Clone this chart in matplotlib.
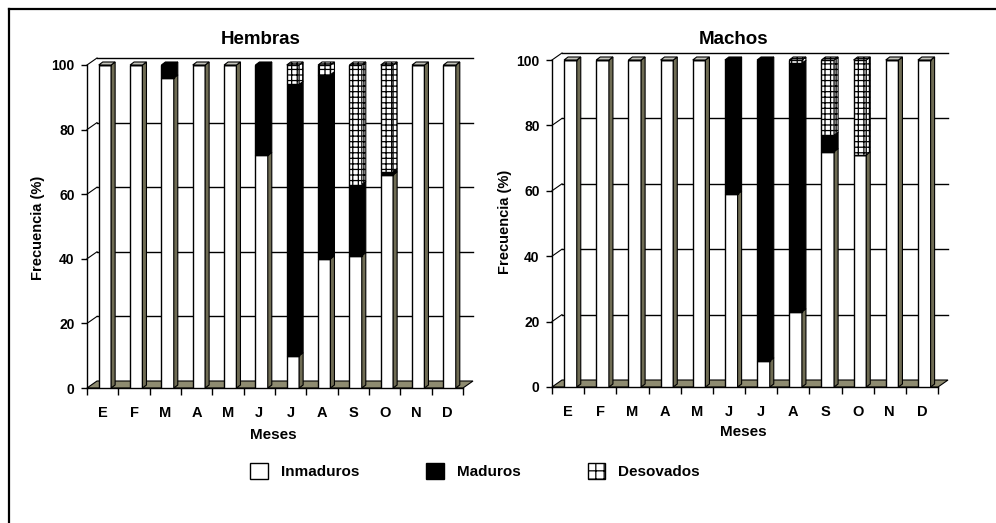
import matplotlib
matplotlib.use('Agg')
import matplotlib.pyplot as plt
from matplotlib.patches import Polygon, Patch
from matplotlib.lines import Line2D

plt.rcParams['font.family'] = ['Liberation Sans', 'DejaVu Sans']
plt.rcParams['hatch.linewidth'] = 0.9

# ---------------- data ----------------
months = ['E', 'F', 'M', 'A', 'M', 'J', 'J', 'A', 'S', 'O', 'N', 'D']
series_names = ['Inmaduros', 'Maduros', 'Desovados']

hembras_inmaduros = [100, 100, 96, 100, 100, 72, 10, 40, 41, 66, 100, 100]
hembras_maduros   = [0, 0, 4, 0, 0, 28, 84, 57, 22, 1, 0, 0]
hembras_desovados = [0, 0, 0, 0, 0, 0, 6, 3, 37, 33, 0, 0]

machos_inmaduros = [100, 100, 100, 100, 100, 59, 8, 23, 72, 71, 100, 100]
machos_maduros   = [0, 0, 0, 0, 0, 41, 92, 76, 5, 0, 0, 0]
machos_desovados = [0, 0, 0, 0, 0, 0, 0, 1, 23, 29, 0, 0]

y_ticks = [0, 20, 40, 60, 80, 100]

# ---------------- style ----------------
FW, FH, DPI = 996, 523, 100
FLOOR = '#8e8b70'
SIDE = '#6f6c54'
TOPC = '#c4c4bc'
HATCH = '+++'

fig = plt.figure(figsize=(FW / DPI, FH / DPI), dpi=DPI)


def fx(px):
    return px / FW


def fy(py):
    return 1 - py / FH


def panel(box, title, title_xy, ylab_xy, xlab_xy, inm, mad, des, wall=(10, 7)):
    left, top, right, bottom = box
    ax = fig.add_axes([fx(left), fy(bottom), (right - left) / FW, (bottom - top) / FH])
    n = len(months)
    ax.set_xlim(-0.5, n - 0.5)
    ax.set_ylim(0, 100)
    ppx = (right - left) / n          # pixels per category
    ppy = (bottom - top) / 100.0      # pixels per percent
    wdx, wdy = wall[0] / ppx, wall[1] / ppy
    bdx, bdy = 4 / ppx, 3 / ppy

    for s in ['top', 'right']:
        ax.spines[s].set_visible(False)
    ax.spines['left'].set_linewidth(1.0)
    ax.spines['bottom'].set_linewidth(1.0)
    ax.patch.set_visible(False)

    # floor
    ax.add_patch(Polygon([(-0.5, 0), (n - 0.5, 0), (n - 0.5 + wdx, wdy), (-0.5 + wdx, wdy)],
                         closed=True, facecolor=FLOOR, edgecolor='black', lw=0.8,
                         zorder=1, clip_on=False))
    # back wall grid lines and left wall diagonals
    for v in y_ticks[1:]:
        ax.plot([-0.5 + wdx, n - 0.5 + wdx], [v + wdy, v + wdy], color='black', lw=1.0,
                zorder=0.5, clip_on=False)
        ax.plot([-0.5, -0.5 + wdx], [v, v + wdy], color='black', lw=0.8, zorder=0.5,
                clip_on=False)

    # bars
    x0 = [i - 0.5 + 0.375 for i in range(n)]
    w = 0.395
    segs = [
        (inm, [0] * n, 'white', None, SIDE, TOPC),
        (mad, inm, 'black', None, 'black', 'black'),
        (des, [a + b for a, b in zip(inm, mad)], 'white', HATCH, 'white', 'white'),
    ]
    for vals, bots, fc, hatch, sc, tc in segs:
        ax.bar(x0, vals, width=w, bottom=bots, align='edge', color=fc, edgecolor='black',
               hatch=hatch, lw=1.0, zorder=3)
        for i in range(n):
            if vals[i] <= 0:
                continue
            xa, xb = x0[i], x0[i] + w
            y0, y1 = bots[i], bots[i] + vals[i]
            ax.add_patch(Polygon([(xb, y0), (xb + bdx, y0 + bdy), (xb + bdx, y1 + bdy), (xb, y1)],
                                 closed=True, facecolor=sc, edgecolor='black', lw=0.8,
                                 hatch=hatch, zorder=3, clip_on=False))
            if y1 >= 99.5:
                ax.add_patch(Polygon([(xa, y1), (xb, y1), (xb + bdx, y1 + bdy), (xa + bdx, y1 + bdy)],
                                     closed=True, facecolor=tc, edgecolor='black', lw=0.8,
                                     hatch=hatch, zorder=3, clip_on=False))

    # axes ticks
    ax.set_yticks(y_ticks)
    ax.set_yticklabels([str(t) for t in y_ticks], fontsize=10, fontweight='bold')
    ax.tick_params(axis='y', length=4, width=1, pad=5, direction='out')
    ax.set_xticks(range(n))
    ax.set_xticklabels(months, fontsize=10.5, fontweight='bold')
    ax.set_xticks([i - 0.5 for i in range(n + 1)], minor=True)
    ax.tick_params(axis='x', which='major', length=0, pad=13)
    ax.tick_params(axis='x', which='minor', length=5, width=1, direction='out')

    fig.text(fx(title_xy[0]), fy(title_xy[1]), title, ha='center', va='center',
             fontsize=13.5, fontweight='bold')
    fig.text(fx(ylab_xy[0]), fy(ylab_xy[1]), 'Frecuencia (%)', ha='center', va='center',
             rotation=90, fontsize=10.5, fontweight='bold')
    fig.text(fx(xlab_xy[0]), fy(xlab_xy[1]), 'Meses', ha='center', va='center',
             fontsize=11, fontweight='bold')
    return ax


panel((87, 65, 463, 388), 'Hembras', (261, 40), (38, 228), (273, 435),
      hembras_inmaduros, hembras_maduros, hembras_desovados, wall=(10, 7))
panel((552, 60, 938, 387), 'Machos', (734, 40), (505, 222), (743, 432),
      machos_inmaduros, machos_maduros, machos_desovados, wall=(10, 7))

# legend
handles = [Patch(facecolor='white', edgecolor='black', lw=1),
           Patch(facecolor='black', edgecolor='black', lw=1),
           Patch(facecolor='white', edgecolor='black', lw=1, hatch='++')]
leg = fig.legend(handles, series_names, loc='center', bbox_to_anchor=(fx(475), fy(471)),
                 ncol=3, frameon=False, prop={'size': 11, 'weight': 'bold'},
                 handlelength=1.15, handleheight=1.25, handletextpad=0.85,
                 columnspacing=4.4)

# outer frame (top and left)
fig.add_artist(Line2D([fx(8.5), 1.0], [fy(8.5), fy(8.5)], color='black', lw=1.6,
                      transform=fig.transFigure))
fig.add_artist(Line2D([fx(8.5), fx(8.5)], [fy(8.5), 0.0], color='black', lw=1.6,
                      transform=fig.transFigure))

fig.savefig('out.png', dpi=DPI)
